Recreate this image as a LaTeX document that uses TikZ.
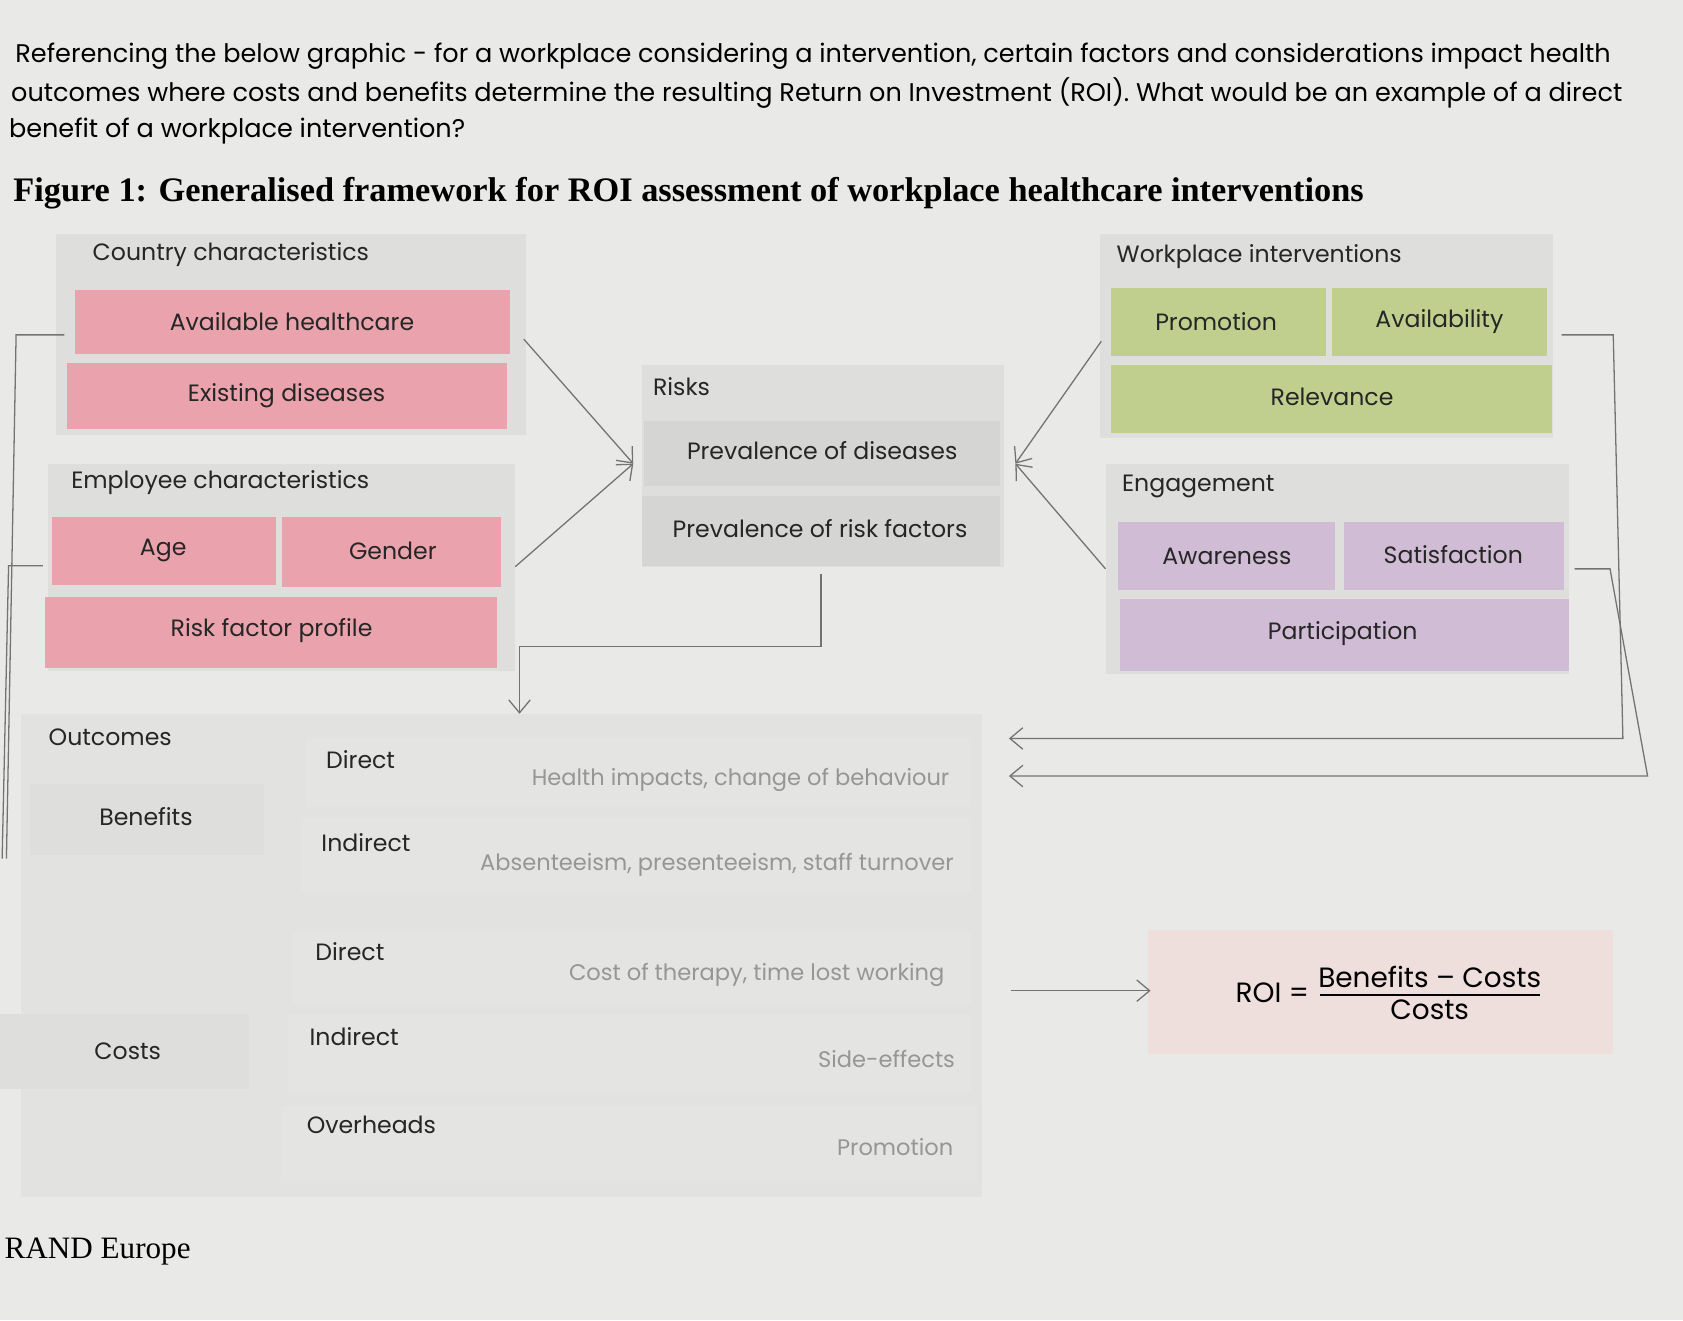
\documentclass[tikz,border=0pt]{standalone}
\usepackage{fontspec}
\setmainfont{Poppins}
\newfontfamily\serifb{Liberation Serif}
\usetikzlibrary{arrows.meta}
\definecolor{bg}{RGB}{233,233,231}
\definecolor{pan}{RGB}{222,222,220}
\definecolor{pnk}{RGB}{234,162,172}
\definecolor{grn}{RGB}{192,207,142}
\definecolor{prp}{RGB}{208,188,212}
\definecolor{roi}{RGB}{238,222,220}
\definecolor{lt}{RGB}{150,150,150}
\tikzset{
 panel/.style={fill=pan,draw=none},
 cbox/.style={fill=#1,draw=none},
 lab/.style={font=\fontsize{11}{13}\selectfont,text=black!85,inner sep=0},
 sub/.style={font=\fontsize{10.5}{12}\selectfont,text=lt,inner sep=0},
 qtext/.style={anchor=west,font=\fontsize{11.9}{14}\selectfont,inner sep=0},
 conn/.style={draw=black!55,line width=0.6pt},
 arr/.style={conn,-{Straight Barb[length=6pt,width=10pt]}}
}
\begin{document}
\begin{tikzpicture}[x=0.5pt,y=-0.5pt]
\fill[bg] (0,0) rectangle (1568,1230);
\useasboundingbox (0,0) rectangle (1568,1230);
% question
\node[qtext] (q1) at (14,52) {Referencing the below graphic - for a workplace considering a intervention, certain factors and considerations impact health};
\node[qtext] (q2) at (10,87) {outcomes where costs and benefits determine the resulting Return on Investment (ROI). What would be an example of a direct};
\node[qtext] (q3) at (8,122) {benefit of a workplace intervention?};
\node[anchor=west,font=\serifb\bfseries\fontsize{16}{18}\selectfont,inner sep=0] (title) at (12,180) {Figure 1: Generalised framework for ROI assessment of workplace healthcare interventions};
% outcomes area
\fill[black!3!bg] (20,665) rectangle (915,1115);
% country
\fill[panel] (52,218) rectangle (490,405);
\node[lab,anchor=west] (cc) at (86,237) {Country characteristics};
\fill[cbox=pnk] (70,270) rectangle (475,330); \node[lab] (ah) at (272,300) {Available healthcare};
\fill[cbox=pnk] (62,338) rectangle (472,400); \node[lab] (ed) at (267,369) {Existing diseases};
% employee
\fill[panel] (45,432) rectangle (480,625);
\node[lab,anchor=west] (ec) at (66,450) {Employee characteristics};
\fill[cbox=pnk] (48,482) rectangle (257,545); \node[lab] (age) at (152,513) {Age};
\fill[cbox=pnk] (263,482) rectangle (467,547); \node[lab] (gen) at (366,513) {Gender};
\fill[cbox=pnk] (42,556) rectangle (463,622); \node[lab] (rfp) at (253,587) {Risk factor profile};
% risks
\fill[panel] (598,340) rectangle (935,528);
\node[lab,anchor=west] (risks) at (608,360) {Risks};
\fill[black!4!pan] (600,392) rectangle (932,453); \node[lab] (pd) at (766,420) {Prevalence of diseases};
\fill[black!4!pan] (598,462) rectangle (932,527); \node[lab] (pr) at (764,492) {Prevalence of risk factors};
% workplace
\fill[panel] (1025,218) rectangle (1447,408);
\node[lab,anchor=west] (wi) at (1040,239) {Workplace interventions};
\fill[cbox=grn] (1035,268) rectangle (1235,332); \node[lab] (pro) at (1133,300) {Promotion};
\fill[cbox=grn] (1241,268) rectangle (1441,332); \node[lab] (av) at (1341,300) {Availability};
\fill[cbox=grn] (1035,340) rectangle (1446,403); \node[lab] (rel) at (1241,370) {Relevance};
% engagement
\fill[panel] (1030,432) rectangle (1462,628);
\node[lab,anchor=west] (eng) at (1045,453) {Engagement};
\fill[cbox=prp] (1042,486) rectangle (1244,550); \node[lab] (aw) at (1143,518) {Awareness};
\fill[cbox=prp] (1252,486) rectangle (1457,550); \node[lab] (sat) at (1354,517) {Satisfaction};
\fill[cbox=prp] (1043,558) rectangle (1462,625); \node[lab] (par) at (1251,590) {Participation};
% converging arrows
\coordinate (la) at (590,432); \coordinate (ra) at (946,432);
\coordinate (l1) at (488,316); \coordinate (l2) at (480,528);
\coordinate (r1) at (1026,318); \coordinate (r2) at (1030,530);
\draw[arr] (l1) -- (la); \draw[arr] (l2) -- (la);
\draw[arr] (r1) -- (ra); \draw[arr] (r2) -- (ra);
% left brackets
\coordinate (b1) at (60,312); \coordinate (b2) at (40,527);
\draw[conn] (b1) -- (15,312) -- (6,800);
\draw[conn] (b2) -- (8,527) -- (2,800);
% down arrow
\coordinate (d0) at (765,535); \coordinate (d1) at (484,665);
\draw[arr] (d0) -- (765,602) -- (484,602) -- (d1);
% right brackets
\coordinate (c1) at (1455,312); \coordinate (c2) at (1467,530);
\coordinate (t1) at (940,688); \coordinate (t2) at (940,723);
\draw[arr] (c1) -- (1503,312) -- (1512,688) -- (t1);
\draw[arr] (c2) -- (1500,530) -- (1535,723) -- (t2);
% outcomes
\node[lab,anchor=west] (out) at (45,687) {Outcomes};
\fill[panel] (28,730) rectangle (246,797); \node[lab] (ben) at (136,761) {Benefits};
\fill[black!2!bg] (285,688) rectangle (905,752); \node[lab] (bd) at (336,708) {Direct};
\node[sub] (bdt) at (690,727) {Health impacts, change of behaviour};
\fill[black!2!bg] (280,762) rectangle (905,830); \node[lab] (bi) at (341,785) {Indirect};
\node[sub] (bit) at (668,806) {Absenteeism, presenteeism, staff turnover};
\fill[panel] (0,945) rectangle (232,1015); \node[lab] (cst) at (119,979) {Costs};
\fill[black!2!bg] (272,868) rectangle (905,935); \node[lab] (cd) at (326,887) {Direct};
\node[sub] (cdt) at (705,908) {Cost of therapy, time lost working};
\fill[black!2!bg] (268,945) rectangle (905,1018); \node[lab] (ci) at (330,966) {Indirect};
\node[sub] (cit) at (826,987) {Side-effects};
\fill[black!2!bg] (262,1030) rectangle (910,1100); \node[lab] (ov) at (346,1048) {Overheads};
\node[sub] (ovt) at (834,1069) {Promotion};
% ROI
\fill[roi] (1070,866) rectangle (1503,982);
\node[inner sep=0,font=\fontsize{13}{15}\selectfont,anchor=east] (roil) at (1220,925) {ROI =};
\node[inner sep=0,font=\fontsize{13}{15}\selectfont] (num) at (1332,910) {Benefits -- Costs};
\node[inner sep=0,font=\fontsize{13}{15}\selectfont] (den) at (1332,941) {Costs};
\draw[line width=0.8pt] (1230,927) -- (1435,927);
\coordinate (ra0) at (942,923); \coordinate (ra1) at (1072,923);
\draw[arr] (ra0) -- (ra1);
\node[anchor=west,inner sep=0,font=\serifb\fontsize{14.5}{16}\selectfont] (rand) at (4,1166) {RAND Europe};
\end{tikzpicture}
\end{document}
